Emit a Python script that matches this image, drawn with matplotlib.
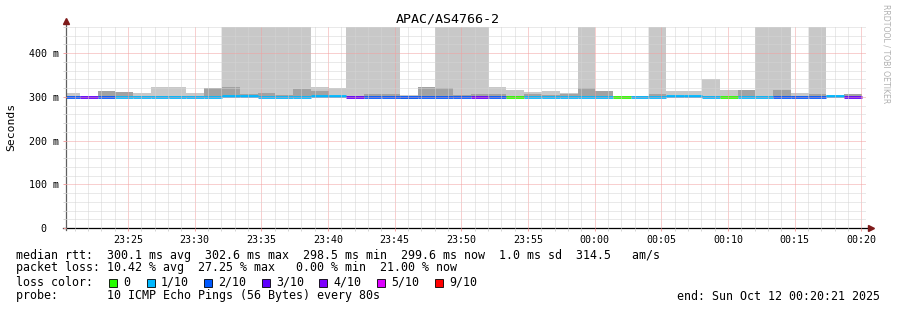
import datetime as dt
import numpy as np
import matplotlib
matplotlib.use('Agg')
import matplotlib.pyplot as plt
import matplotlib.dates as mdates
from matplotlib.patches import Rectangle
from matplotlib.ticker import FixedLocator, MultipleLocator

# smokeping style chart, one entry per 80 s step (first one is partial)
median = [300, 299, 299, 300, 300, 300, 300, 300, 300, 302, 301, 299, 300, 300, 301, 301,
          300.5, 299.5, 299.5, 300, 300, 299, 299, 300.5, 300.5, 299.5, 300, 300, 300, 300,
          300, 299.5, 300.5, 300, 302, 301, 299.5, 299, 300.5, 300, 299.5, 299.5, 299.5, 301, 299.6]
loss = [2, 3, 2, 1, 1, 1, 1, 1, 1, 1, 1, 1, 1, 1, 1, 1,
        3, 2, 2, 2, 2, 2, 2, 3, 2, 0, 1, 1, 1, 1,
        1, 0, 1, 1, 1, 1, 1, 0, 1, 1, 2, 2, 2, 1, 3]
smoke_lo = [298, 298, 298, 298, 298, 298, 298, 298, 298, 299, 299, 298, 298, 298, 299, 299,
            299, 298, 298, 296, 298, 298, 298, 299, 298, 298, 298, 298, 298, 298,
            298, 299, 299, 298, 300, 299, 298, 298, 298, 298, 298, 298, 298, 299, 298]
smoke_mid = [302, 300, 313, 311, 302, 303, 303, 302, 320, 322, 306, 309, 305, 318, 313, 303,
             302, 306, 306, 302, 322, 320, 304, 306, 306, 302, 306, 304, 307, 320,
             314, 300, 301, 307, 303, 302, 302, 300, 316, 302, 315, 302, 306, 300, 306]
smoke_hi = [308, 301, 313, 311, 310, 322, 322, 310, 320, 600, 600, 600, 600, 600, 322, 320,
            600, 600, 600, 305, 322, 600, 600, 600, 322, 315, 312, 314, 310, 600,
            314, 301, 302, 600, 314, 313, 341, 316, 316, 600, 600, 310, 600, 304, 306]

loss_labels = ['0', '1/10', '2/10', '3/10', '4/10', '5/10', '9/10']
loss_colors = ['#26ff00', '#00b8ff', '#0059ff', '#5e00ff', '#7e00ff', '#dd00ff', '#ff0000']
tenth_color = {0: '#26ff00', 1: '#00b8ff', 2: '#0059ff', 3: '#5e00ff', 4: '#7e00ff'}

start = dt.datetime(2025, 10, 11, 23, 20, 21)
end = dt.datetime(2025, 10, 12, 0, 20, 21)
edges = [start] + [start + dt.timedelta(seconds=62 + 80 * k) for k in range(45)]
x = mdates.date2num(edges)

W, H = 897, 310
fig = plt.figure(figsize=(W / 100, H / 100), dpi=100)
fig.patch.set_facecolor('white')
ax = fig.add_axes([66 / W, 1 - 228 / H, 800 / W, 201 / H])

ax.stairs(smoke_hi, x, baseline=smoke_lo, fill=True, color='#c8c8c8', lw=0)
ax.stairs(smoke_mid, x, baseline=smoke_lo, fill=True, color='#a2a2a2', lw=0)
ax.hlines(median, x[:-1], x[1:], colors=[tenth_color[v] for v in loss], lw=2.0)

ax.set_xlim(mdates.date2num(start), mdates.date2num(end))
ax.set_ylim(0, 460)
ax.xaxis.set_major_locator(mdates.MinuteLocator(byminute=range(0, 60, 5)))
ax.xaxis.set_minor_locator(mdates.MinuteLocator())
ax.xaxis.set_major_formatter(mdates.DateFormatter('%H:%M'))
ax.yaxis.set_major_locator(FixedLocator([0, 100, 200, 300, 400]))
ax.yaxis.set_minor_locator(MultipleLocator(20))
ax.set_yticklabels(['0  ', '100 m', '200 m', '300 m', '400 m'])

ax.set_axisbelow(False)
ax.grid(which='minor', color='#d4d4d4', lw=0.72, linestyle=(0, (1, 1)))
ax.grid(which='major', color='#f2a0a0', lw=0.72, linestyle=(0, (1, 1)))
ax.tick_params(which='both', length=2, width=0.7, pad=3,
               labelsize=7.2, labelfontfamily='DejaVu Sans Mono')
ax.tick_params(which='minor', color='#d4d4d4')
ax.tick_params(which='major', color='#f2a0a0')
for s in ax.spines.values():
    s.set_visible(False)

# axis lines with rrdtool style arrow heads
ax.plot([-0.004, 1.004], [0, 0], transform=ax.transAxes, clip_on=False, color='black', lw=0.9)
ax.plot([0, 0], [-0.01, 1.025], transform=ax.transAxes, clip_on=False, color='#606060', lw=0.9)
ax.plot([1.006], [0], marker='>', ms=4, color='#7f1a1a', transform=ax.transAxes, clip_on=False)
ax.plot([0], [1.03], marker='^', ms=4, color='#7f1a1a', transform=ax.transAxes, clip_on=False)

mono = 'DejaVu Sans Mono'
fig.text(448 / W, 1 - 19 / H, 'APAC/AS4766-2', ha='center', va='center', family=mono, fontsize=9.6)
fig.text(11 / W, 1 - 127 / H, 'Seconds', rotation=90, ha='center', va='center', family=mono, fontsize=8.2)
fig.text(886 / W, 1 - 4 / H, 'RRDTOOL / TOBI OETIKER', rotation=270, ha='center', va='top',
         family='DejaVu Sans', fontsize=5.6, color='#b0b0b0')

lines = [
    'median rtt:  300.1 ms avg  302.6 ms max  298.5 ms min  299.6 ms now  1.0 ms sd  314.5   am/s',
    'packet loss: 10.42 % avg  27.25 % max   0.00 % min  21.00 % now',
    'loss color:',
    'probe:       10 ICMP Echo Pings (56 Bytes) every 80s',
]
for txt, yy in zip(lines, [255, 268, 282, 296]):
    fig.text(16 / W, 1 - yy / H, txt, ha='left', va='center', family=mono, fontsize=8.4)
fig.text(880 / W, 1 - 296 / H, 'end: Sun Oct 12 00:20:21 2025', ha='right', va='center',
         family=mono, fontsize=8.4)

box_x = [109, 147, 204, 262, 319, 377, 435]
for bx, lab, col in zip(box_x, loss_labels, loss_colors):
    fig.add_artist(Rectangle((bx / W, 1 - 287 / H), 8 / W, 8 / H, transform=fig.transFigure,
                             facecolor=col, edgecolor='black', lw=0.6))
    fig.text((bx + 14) / W, 1 - 282 / H, lab, ha='left', va='center', family=mono, fontsize=8.4)

fig.savefig('out.png', dpi=100)
